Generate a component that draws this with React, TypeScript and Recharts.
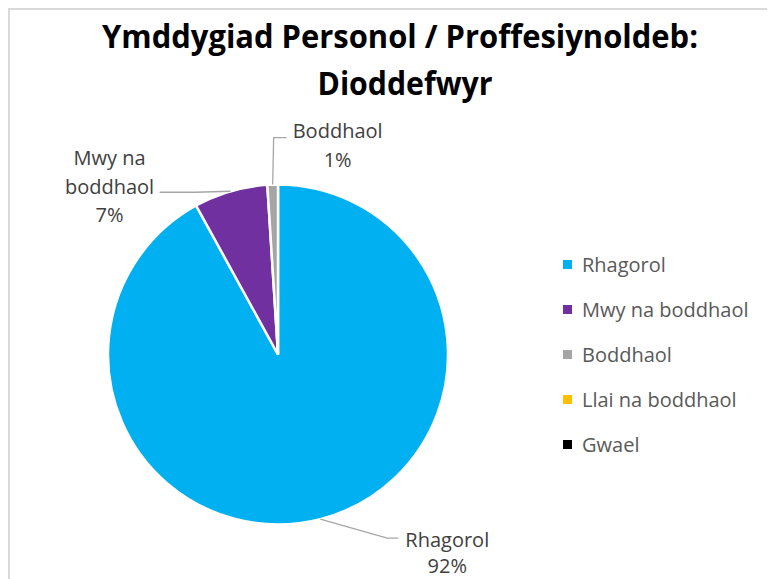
import React from "react";
import { PieChart, Pie, Cell, Legend } from "recharts";

const categories = ["Rhagorol", "Mwy na boddhaol", "Boddhaol", "Llai na boddhaol", "Gwael"];
const shares = [92, 7, 1, 0, 0];
const colors = ["#00B0F0", "#7030A0", "#A5A5A5", "#FFC000", "#000000"];
const titleLines = ["Ymddygiad Personol / Proffesiynoldeb:", "Dioddefwyr"];

const data = categories.map((name, i) => ({ name, value: shares[i] }));

const font = "'Open Sans', 'DejaVu Sans', sans-serif";
const RAD = Math.PI / 180;

// leader line bends and text position, relative to the point where the slice's mid angle meets the rim
const labelLayout = [
  { elbow: [67, 19], end: [78, 19], tx: 127, ty: 27.5, step: 26 },
  { elbow: [-35, 1], end: [-71, 1], tx: -121, ty: -26, step: 28.5 },
  { elbow: [1, -47], end: [14, -47], tx: 65, ty: -46.5, step: 29 },
];

const wrapName = (name: string, max = 10) => {
  const out: string[] = [];
  let cur = "";
  name.split(" ").forEach((w) => {
    if (cur && (cur + " " + w).length > max) {
      out.push(cur);
      cur = w;
    } else {
      cur = cur ? cur + " " + w : w;
    }
  });
  if (cur) out.push(cur);
  return out;
};

const renderLabel = (props: any) => {
  const { cx, cy, midAngle, outerRadius, index, percent, value } = props;
  const lay = labelLayout[index];
  if (!value || !lay) return null;
  const x0 = cx + outerRadius * Math.cos(-midAngle * RAD);
  const y0 = cy + outerRadius * Math.sin(-midAngle * RAD);
  const lines = [...wrapName(categories[index]), `${Math.round(percent * 100)}%`];
  const pts = [
    [x0, y0],
    [x0 + lay.elbow[0], y0 + lay.elbow[1]],
    [x0 + lay.end[0], y0 + lay.end[1]],
  ]
    .map((p) => p.join(","))
    .join(" ");
  return (
    <g key={`lbl-${index}`}>
      <polyline points={pts} fill="none" stroke="#A6A6A6" strokeWidth={1.3} />
      <text textAnchor="middle" fill="#404040" fontSize={20} fontFamily={font}>
        {lines.map((l, i) => (
          <tspan key={i} x={x0 + lay.tx} y={y0 + lay.ty + i * lay.step}>
            {l}
          </tspan>
        ))}
      </text>
    </g>
  );
};

const renderLegend = () => (
  <div style={{ fontFamily: font, fontSize: 20, color: "#595959" }}>
    {categories.map((c, i) => (
      <div key={c} style={{ height: 45, display: "flex", alignItems: "center" }}>
        <span style={{ width: 9, height: 9, background: colors[i], marginRight: 10, display: "inline-block" }} />
        <span>{c}</span>
      </div>
    ))}
  </div>
);

export default function App() {
  return (
    <div
      style={{
        position: "relative",
        width: 767,
        height: 571,
        borderTop: "2px solid #D9D9D9",
        borderLeft: "2px solid #D9D9D9",
        boxSizing: "border-box",
        background: "#fff",
        fontFamily: font,
      }}
    >
      <div style={{ position: "absolute", left: 0, top: 0 }}>
        <PieChart width={765} height={569} margin={{ top: 0, right: 0, bottom: 0, left: 0 }}>
          <Pie
            data={data}
            dataKey="value"
            nameKey="name"
            cx={268}
            cy={344.5}
            outerRadius={170}
            startAngle={90}
            endAngle={-270}
            stroke="#FFFFFF"
            strokeWidth={2.5}
            label={renderLabel}
            labelLine={false}
            isAnimationActive={false}
          >
            {data.map((d, i) => (
              <Cell key={d.name} fill={colors[i]} />
            ))}
          </Pie>
          <Legend
            layout="vertical"
            align="right"
            verticalAlign="top"
            content={renderLegend}
            wrapperStyle={{ left: 553, right: "auto", top: 232, width: 210 }}
          />
        </PieChart>
      </div>
      <svg
        width={765}
        height={110}
        style={{ position: "absolute", left: 0, top: 0, pointerEvents: "none" }}
      >
        <text x={390} y={38} textAnchor="middle" fontSize={32} fontWeight={700} fill="#000" fontFamily={font} textLength={596} lengthAdjust="spacingAndGlyphs">
          {titleLines[0]}
        </text>
        <text x={395} y={85} textAnchor="middle" fontSize={32} fontWeight={700} fill="#000" fontFamily={font} textLength={175} lengthAdjust="spacingAndGlyphs">
          {titleLines[1]}
        </text>
      </svg>
    </div>
  );
}
